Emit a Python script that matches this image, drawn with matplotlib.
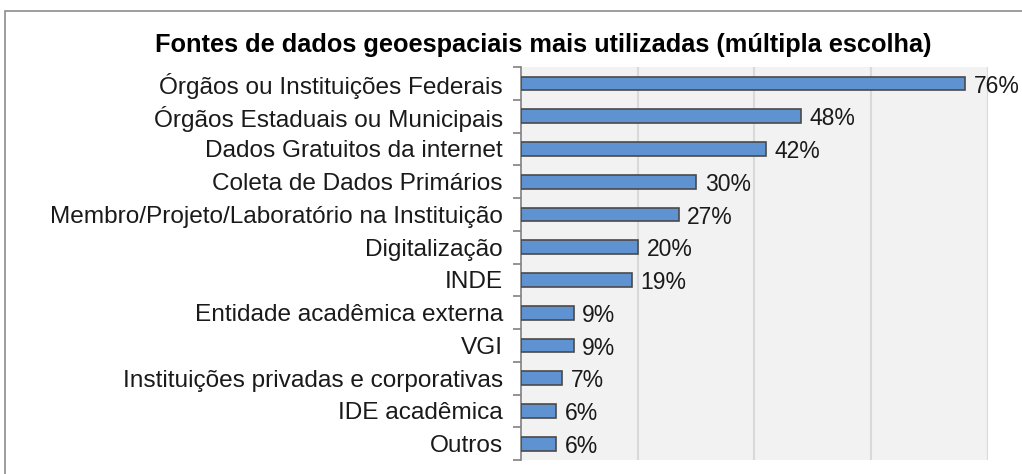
import matplotlib
matplotlib.use("Agg")
import matplotlib.pyplot as plt
from matplotlib.patches import Rectangle

plt.rcParams['font.family'] = ['Liberation Sans', 'DejaVu Sans']

categories = [
    "Órgãos ou Instituições Federais",
    "Órgãos Estaduais ou Municipais",
    "Dados Gratuitos da internet",
    "Coleta de Dados Primários",
    "Membro/Projeto/Laboratório na Instituição",
    "Digitalização",
    "INDE",
    "Entidade acadêmica externa",
    "VGI",
    "Instituições privadas e corporativas",
    "IDE acadêmica",
    "Outros",
]
values = [76, 48, 42, 30, 27, 20, 19, 9, 9, 7, 6, 6]
title = "Fontes de dados geoespaciais mais utilizadas (múltipla escolha)"

fig = plt.figure(figsize=(10.22, 4.74), dpi=100)
ax = fig.add_axes([0.5098, 0.0295, 0.4569, 0.8291])

# outer chart frame
fig.patches.append(Rectangle((5 / 1022, -0.1), 1.1, 1 - 11 / 474 + 0.1,
                             transform=fig.transFigure, fill=False,
                             edgecolor="#8c8c8c", linewidth=1.2))

ypos = list(range(len(categories)))
ax.set_facecolor("#f2f2f2")
ax.barh(ypos, values, height=0.42, color="#5f92d0", edgecolor="#4a4a4a",
        linewidth=1.2, zorder=3)
for y, v in zip(ypos, values):
    ax.text(v + 1.5, y + 0.08, f"{v}%", va="center", ha="left", fontsize=16.5,
            color="#1a1a1a")

ax.set_xlim(0, 80)
ax.set_ylim(len(categories) - 0.5, -0.5)
ax.set_xticks([20, 40, 60, 80])
ax.set_xticklabels([])
ax.tick_params(axis="x", length=0)
ax.grid(axis="x", color="#d9d9d9", linewidth=1.5, zorder=0)

ax.set_yticks([y + 0.5 for y in [-1] + ypos], minor=False)
ax.set_yticklabels([])
ax.set_yticks(ypos, minor=True)
ax.set_yticklabels(categories, minor=True, fontsize=17.6, color="#1a1a1a")
ax.tick_params(axis="y", which="major", length=6, color="#808080", width=1.2, direction="out")
ax.tick_params(axis="y", which="minor", length=0, pad=13)

for s in ["top", "right", "bottom"]:
    ax.spines[s].set_visible(False)
ax.spines["left"].set_color("#808080")
ax.spines["left"].set_linewidth(1.2)

fig.text(0.532, 1 - 45 / 474, title, ha="center", va="center",
         fontsize=18.3, fontweight="bold")

fig.savefig("out.png", dpi=100)
